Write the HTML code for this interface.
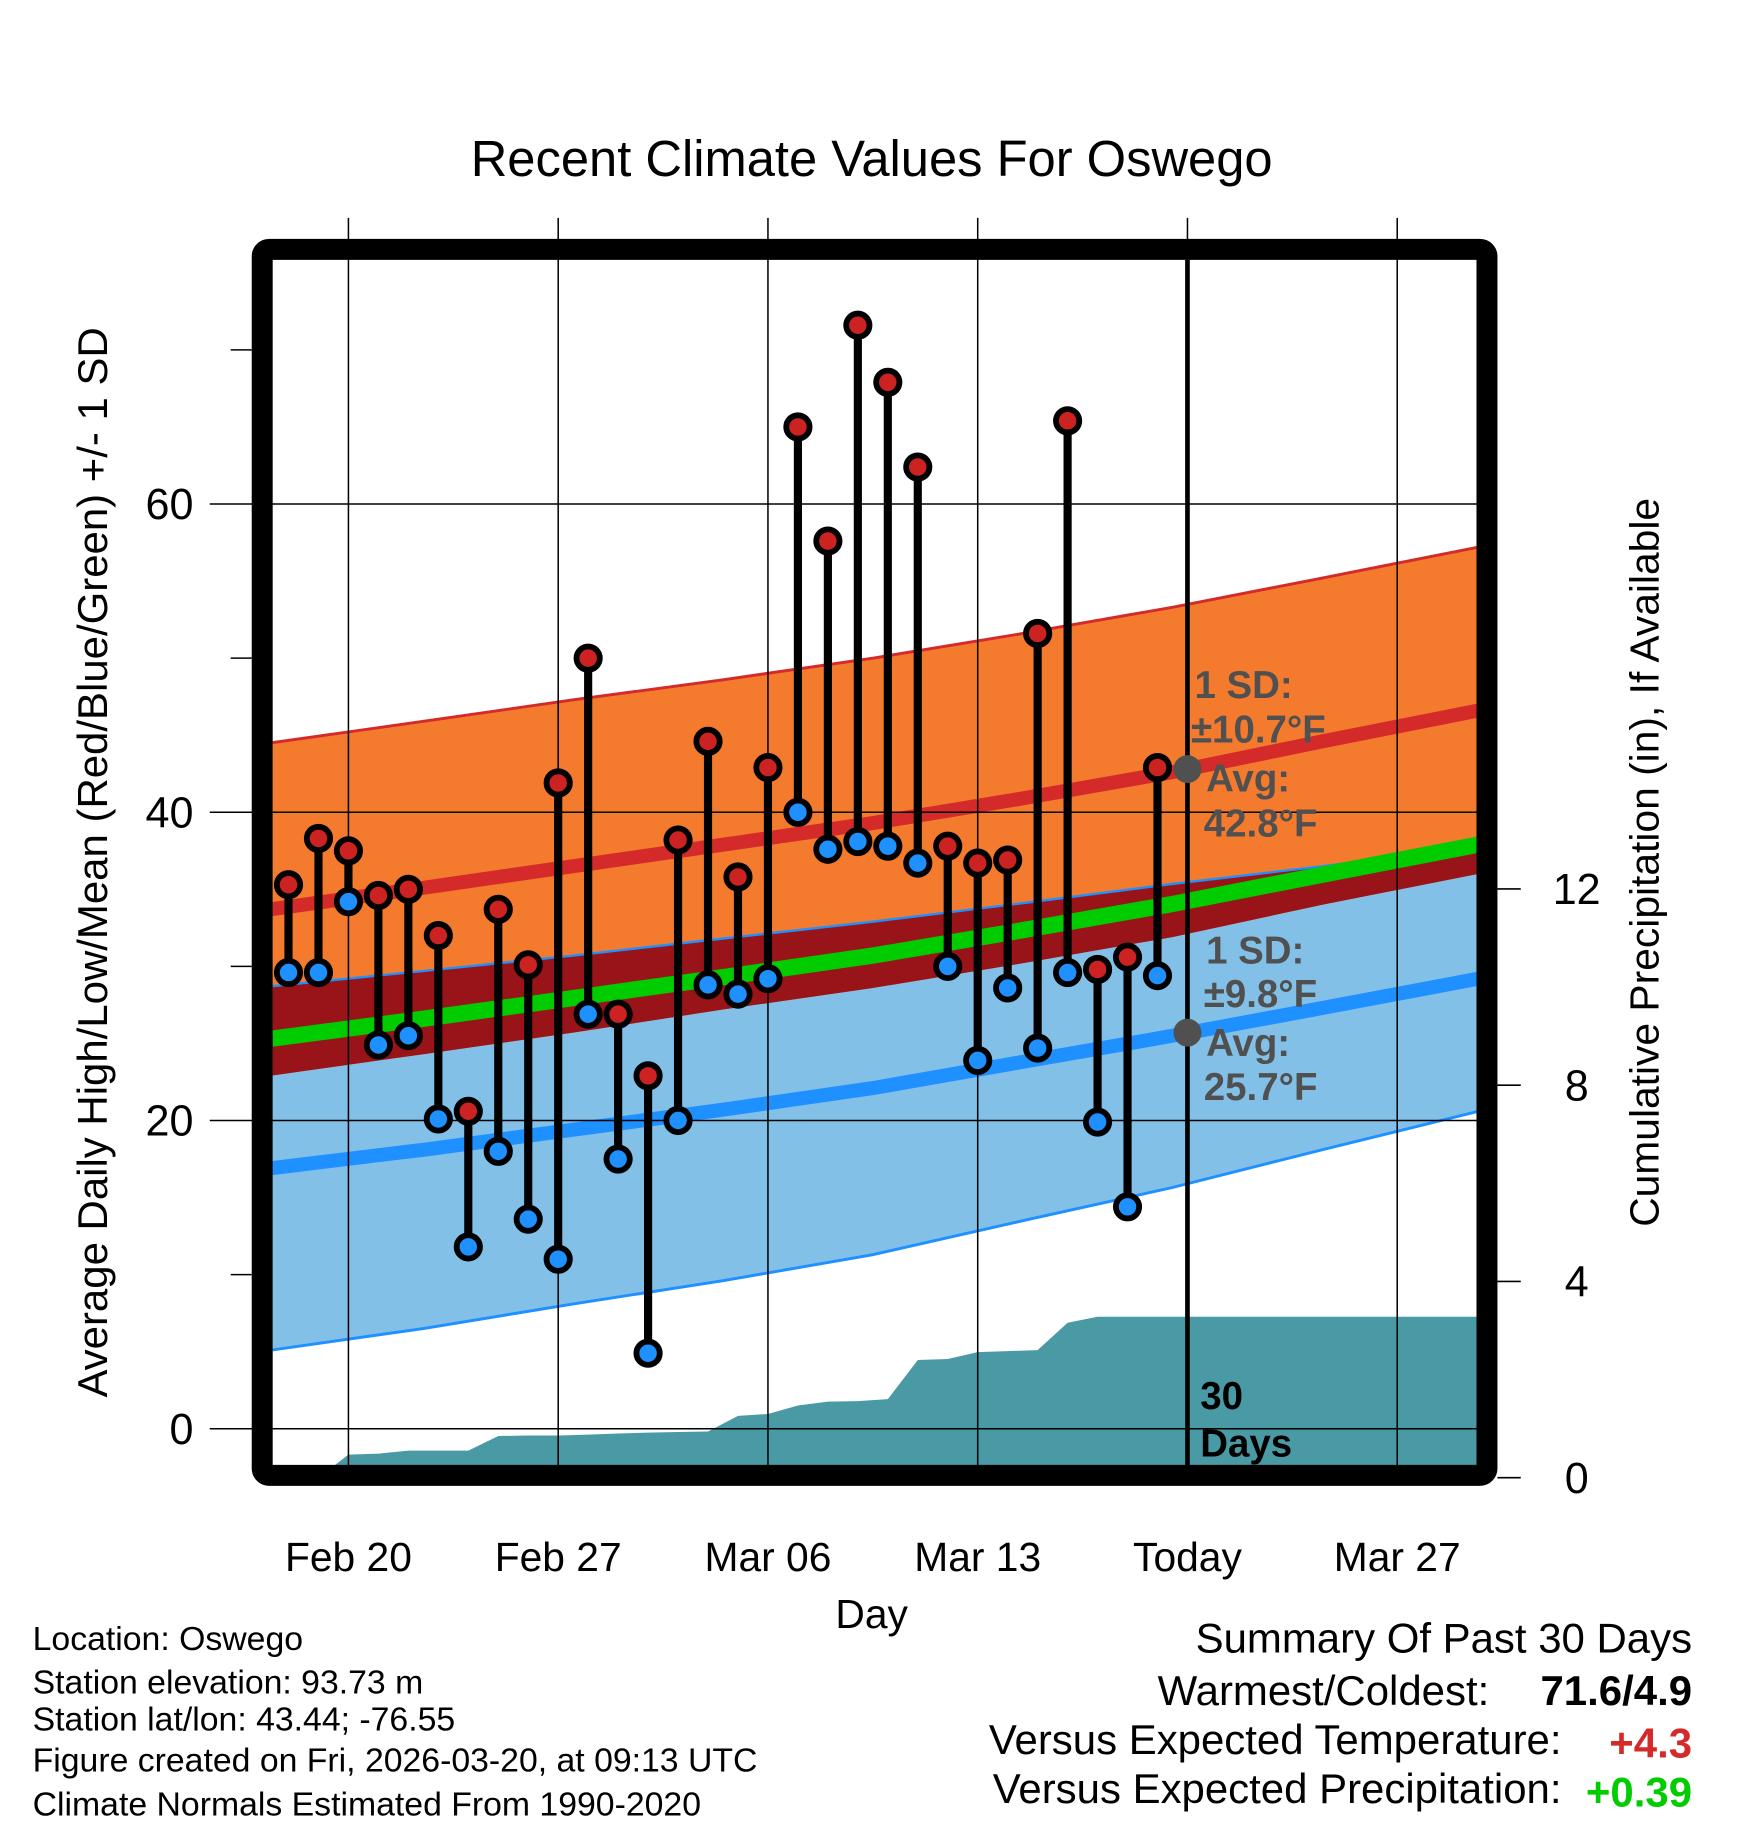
<!DOCTYPE html>
<html><head><meta charset="utf-8"><title>Recent Climate Values For Oswego</title>
<style>
html,body{margin:0;padding:0;background:#fff;}
svg{display:block;font-family:"Liberation Sans",Arial,sans-serif;}
</style></head>
<body>
<svg id="chart" width="1748" height="1828" viewBox="0 0 1500 1568.6" preserveAspectRatio="none" xmlns="http://www.w3.org/2000/svg">
<defs><clipPath id="plotclip"><rect x="234" y="223" width="1033" height="1035"/></clipPath></defs>
<text x="748" y="151" font-size="43.5" text-anchor="middle">Recent Climate Values For Oswego</text>
<g id="plot" clip-path="url(#plotclip)"></g>
<g id="axes"></g>
<text transform="translate(92,740) rotate(-90)" font-size="36" text-anchor="middle">Average Daily High/Low/Mean (Red/Blue/Green) +/- 1 SD</text>
<text transform="translate(1423,740) rotate(-90)" font-size="35" text-anchor="middle">Cumulative Precipitation (in), If Available</text>
<text x="748" y="1397" font-size="35" text-anchor="middle">Day</text>
<g font-size="29">
<text x="28" y="1416">Location: Oswego</text>
<text x="28" y="1453">Station elevation: 93.73 m</text>
<text x="28" y="1485">Station lat/lon: 43.44; -76.55</text>
<text x="28" y="1520">Figure created on Fri, 2026-03-20, at 09:13 UTC</text>
<text x="28" y="1558">Climate Normals Estimated From 1990-2020</text>
</g>
<g font-size="36">
<text x="1452" y="1418" text-anchor="end">Summary Of Past 30 Days</text>
<text x="1278" y="1463" text-anchor="end">Warmest/Coldest:</text>
<text x="1452" y="1463" text-anchor="end" font-weight="bold">71.6/4.9</text>
<text x="1340" y="1505" text-anchor="end">Versus Expected Temperature:</text>
<text x="1452" y="1508" text-anchor="end" font-weight="bold" fill="#d42a2a">+4.3</text>
<text x="1340" y="1547" text-anchor="end">Versus Expected Precipitation:</text>
<text x="1452" y="1550" text-anchor="end" font-weight="bold" fill="#00cc00">+0.39</text>
</g>
</svg>
<script>
// ---- data ----
const days = [-2,-1,0,1,2,3,4,5,6,7,8,9,10,11,12,13,14,15,16,17,18,19,20,21,22,23,24,25,26,27];
const highs = [35.3,38.3,37.5,34.6,35.0,32.0,20.6,33.7,30.1,41.9,50.0,26.9,22.9,38.2,44.6,35.8,42.9,65.0,57.6,71.6,67.9,62.4,37.8,36.7,36.9,51.6,65.4,29.8,30.6,42.9];
const lows = [29.6,29.6,34.2,24.9,25.5,20.1,11.8,18.0,13.6,11.0,26.9,17.5,4.9,20.0,28.8,28.2,29.2,40.0,37.6,38.1,37.8,36.7,30.0,23.9,28.6,24.7,29.6,19.9,14.4,29.4];
const precipDays = [-2,-1,0,1,2,3,4,5,6,7,8,9,10,11,12,13,14,15,16,17,18,19,20,21,22,23,24,25,26,27,28,29];
const precipCum = [0,0,0.47,0.49,0.55,0.55,0.55,0.85,0.86,0.86,0.88,0.9,0.92,0.93,0.94,1.26,1.3,1.47,1.55,1.56,1.6,2.4,2.42,2.56,2.58,2.6,3.16,3.28,3.28,3.28,3.28,3.28];
const normDays = [-2.6,2.5,7.5,12.5,17.5,22.5,27.5,32.5,37.7];
const hiMean = [33.7,35.1,36.5,37.9,39.3,40.9,42.6,44.6,46.6];
const hiSD = [10.8,10.8,10.8,10.7,10.7,10.7,10.7,10.6,10.6];
const loMean = [16.9,18.1,19.4,20.7,22.1,23.8,25.5,27.3,29.2];
const loSD = [11.8,11.6,11.3,11.1,10.8,10.3,9.85,9.2,8.6];
const yTicks = [0,20,40,60];
const yMinor = [10,30,50,70];
const y2Ticks = [0,4,8,12];
const xTickDays = [0,7,14,21,28,35];
const xTickLabels = ["Feb 20","Feb 27","Mar 06","Mar 13","Today","Mar 27"];
const todayDay = 28;

// ---- scales ----
const X = d => 299 + d*25.714;
const Y = v => 1226 - v*13.225;
const Y2 = p => 1268 - p*42.1;
const NS = "http://www.w3.org/2000/svg";
const plot = document.getElementById('plot');
const axes = document.getElementById('axes');
function mk(tag, attrs, parent){const e=document.createElementNS(NS,tag);for(const k in attrs)e.setAttribute(k,attrs[k]);parent.appendChild(e);return e;}
const pts = (xs, ys) => xs.map((x,i)=>X(x).toFixed(1)+','+ys[i].toFixed(1)).join(' ');

const hiTop = normDays.map((d,i)=>Y(hiMean[i]+hiSD[i]));
const hiBot = normDays.map((d,i)=>Y(hiMean[i]-hiSD[i]));
const loTop = normDays.map((d,i)=>Y(loMean[i]+loSD[i]));
const loBot = normDays.map((d,i)=>Y(loMean[i]-loSD[i]));
const rev = a => a.slice().reverse();

let e;
e = mk('polygon',{points: pts(normDays,loTop)+' '+pts(rev(normDays),rev(loBot)), fill:'#82c0e8'},plot);
 
e = mk('polygon',{points: pts(normDays,hiTop)+' '+pts(rev(normDays),rev(hiBot)), fill:'#f47a2e'},plot);
 
e = mk('polygon',{points: pts(normDays,loTop)+' '+pts(rev(normDays),rev(hiBot)), fill:'#991418'},plot);
 
e = mk('polyline',{points: pts(normDays,loTop), fill:'none', stroke:'#1e90ff','stroke-width':2},plot);
 
e = mk('polyline',{points: pts(normDays,loBot), fill:'none', stroke:'#1e90ff','stroke-width':2.5},plot);
 
e = mk('polyline',{points: pts(normDays,hiTop), fill:'none', stroke:'#d42a2a','stroke-width':2.5},plot);
 
e = mk('polyline',{points: pts(normDays,normDays.map((d,i)=>Y((hiMean[i]+loMean[i])/2))), fill:'none', stroke:'#00cc00','stroke-width':14},plot);
 
e = mk('polyline',{points: pts(normDays,hiMean.map(Y)), fill:'none', stroke:'#d42a2a','stroke-width':12},plot);
 
e = mk('polyline',{points: pts(normDays,loMean.map(Y)), fill:'none', stroke:'#1e90ff','stroke-width':12},plot);
 

// precipitation area
const lastP = precipCum[precipCum.length-1];
e = mk('polygon',{points: X(precipDays[0]).toFixed(1)+','+Y2(0)+' '+pts(precipDays,precipCum.map(Y2))+' 1270,'+Y2(lastP).toFixed(1)+' 1270,'+Y2(0), fill:'#4a9aa5'},plot);
 

// grid lines
yTicks.forEach(v=>{
  e = mk('line',{x1:180,x2:1267,y1:Y(v),y2:Y(v),stroke:'#000','stroke-width':1.3},axes);
   
  e = mk('text',{x:166,y:Y(v)+13,'font-size':37,'text-anchor':'end'},axes); e.textContent=v;
   
});
yMinor.forEach(v=>{
  e = mk('line',{x1:198,x2:216,y1:Y(v),y2:Y(v),stroke:'#000','stroke-width':1.3},axes);
   
});
y2Ticks.forEach(p=>{
  e = mk('line',{x1:1285,x2:1305,y1:Y2(p),y2:Y2(p),stroke:'#000','stroke-width':1.3},axes);
   
  e = mk('text',{x:1353,y:Y2(p)+13,'font-size':37,'text-anchor':'middle'},axes); e.textContent=p;
   
});
xTickDays.forEach((d,i)=>{
  e = mk('line',{x1:X(d),x2:X(d),y1:187,y2:1258,stroke:'#000','stroke-width':1.3},axes);
   
  e = mk('text',{x:X(d),y:1348,'font-size':35,'text-anchor':'middle'},axes); e.textContent=xTickLabels[i];
   
});

// today line & annotations
e = mk('line',{x1:X(todayDay),x2:X(todayDay),y1:223,y2:1258,stroke:'#000','stroke-width':4},axes);
 
const ann = [["1 SD:",1025,599],["\u00B110.7\u00B0F",1022,637],["Avg:",1035,679],["42.8\u00B0F",1033,718],["1 SD:",1035,827],["\u00B19.8\u00B0F",1033,864],["Avg:",1035,906],["25.7\u00B0F",1033,944]];
ann.forEach(a=>{
  e = mk('text',{x:a[1],y:a[2],'font-size':33,'font-weight':'bold',fill:'#505050'},axes); e.textContent=a[0];
   
});
e = mk('circle',{cx:X(todayDay),cy:Y(42.8),r:12,fill:'#505050'},axes);
 
e = mk('circle',{cx:X(todayDay),cy:Y(25.7),r:12,fill:'#505050'},axes);
 
e = mk('text',{x:1030,y:1209,'font-size':33,'font-weight':'bold'},axes); e.textContent='30';
 
e = mk('text',{x:1030,y:1250,'font-size':33,'font-weight':'bold'},axes); e.textContent='Days';
 

// daily stems & dots
days.forEach((d,i)=>{
  e = mk('line',{x1:X(d),x2:X(d),y1:Y(highs[i]),y2:Y(lows[i]),stroke:'#000','stroke-width':7},axes);
   
});
days.forEach((d,i)=>{
  e = mk('circle',{cx:X(d),cy:Y(highs[i]),r:10,fill:'#cc2222',stroke:'#000','stroke-width':5},axes);
   
  e = mk('circle',{cx:X(d),cy:Y(lows[i]),r:10,fill:'#1e90ff',stroke:'#000','stroke-width':5},axes);
   
});

// frame
e = mk('rect',{x:225,y:214,width:1051,height:1052,rx:6,fill:'none',stroke:'#000','stroke-width':18},axes);
 
</script>
</body></html>
